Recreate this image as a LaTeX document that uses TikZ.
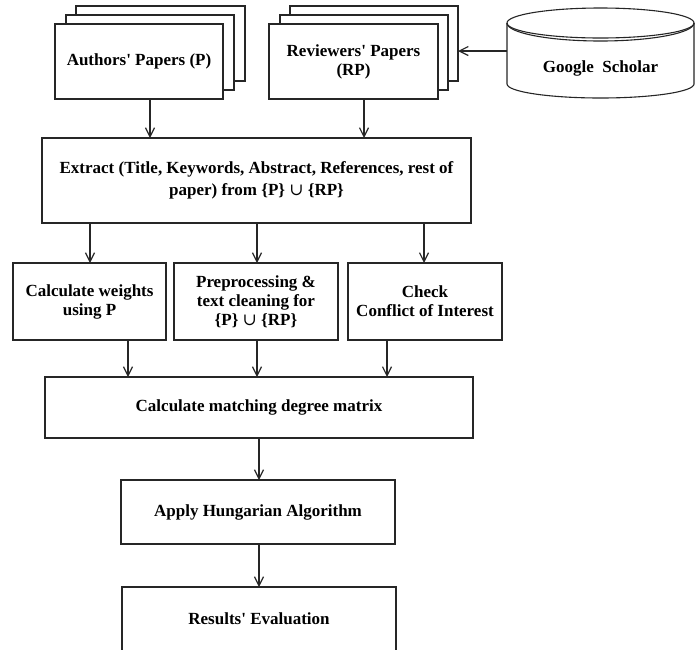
\documentclass[tikz,border=0pt]{standalone}
\usepackage{fontspec}
\setmainfont{Liberation Serif}
\newfontfamily\symfont{DejaVu Serif}
\usetikzlibrary{arrows.meta,calc}
\newcommand{\q}{\textquotesingle}
\newcommand{\un}{{\symfont\mdseries ∪}}
\begin{document}
\begin{tikzpicture}[x=1pt,y=-1pt,
  every node/.style={inner sep=0pt, outer sep=0pt},
  box/.style={draw=black!85, line width=1.1pt, fill=white, align=center,
    font=\fontsize{17}{19}\selectfont\bfseries, anchor=center},
  arr/.style={draw=black!85, line width=1.1pt, -{Straight Barb[length=9pt,width=9pt,line width=1.2pt]}},
  cyl/.style={draw=black!85, line width=1.1pt}]
\useasboundingbox (0,0) rectangle (695,649);
\clip (0,0) rectangle (695,649);

% Authors' papers stack
\node[box, minimum width=169, minimum height=75] (a3) at (160.5,43.5) {};
\node[box, minimum width=168, minimum height=75] (a2) at (150,52.5) {};
\node[box, minimum width=168, minimum height=75] (a1) at (139,61.5) {Authors\q{} Papers (P)};

% Reviewers' papers stack
\node[box, minimum width=168, minimum height=75] (r3) at (374,43.5) {};
\node[box, minimum width=168, minimum height=75] (r2) at (364,52.5) {};
\node[box, minimum width=169, minimum height=75] (r1) at (353.5,61.5) {Reviewers\q{} Papers\\(RP)};

% Google Scholar cylinder
\node[minimum width=187, minimum height=90] (gs) at (600.5,51) {};
\draw[cyl, fill=white] (507,23) -- (507,84) arc[start angle=180, end angle=0, x radius=93.5, y radius=14] -- (694,23);
\draw[cyl] (600.5,23) ellipse [x radius=93.5, y radius=15];
\draw[cyl] (507,23) arc[start angle=180, end angle=0, x radius=93.5, y radius=18];
\node[font=\fontsize{17}{19}\selectfont\bfseries] (gsl) at (600.5,68) {Google\ \ Scholar};

% Main flow
\node[box, minimum width=429, minimum height=85, font=\fontsize{17}{22}\selectfont\bfseries] (ex) at (256.5,180.5)
  {Extract (Title, Keywords, Abstract, References, rest of\\paper) from \{P\} \un{} \{RP\}};
\node[box, minimum width=153, minimum height=77] (c1) at (89.5,301.5) {Calculate weights\\using P};
\node[box, minimum width=164, minimum height=77] (c2) at (256,301.5) {Preprocessing \&\\text cleaning for\\\{P\} \un{} \{RP\}};
\node[box, minimum width=154, minimum height=77] (c3) at (425,301.5) {Check\\Conflict of Interest};
\node[box, minimum width=428, minimum height=61] (mm) at (259,407.5) {Calculate matching degree matrix};
\node[box, minimum width=274, minimum height=64] (hu) at (258,512) {Apply Hungarian Algorithm};
\node[box, minimum width=274, minimum height=64] (re) at (259,619) {Results\q{} Evaluation};

% Connectors
\draw[arr] (a1.south -| 150,0) -- (ex.north -| 150,0);
\draw[arr] (r1.south -| 364,0) -- (ex.north -| 364,0);
\draw[arr] (gs.west) -- (gs.west -| r3.east);
\draw[arr] (ex.south -| 90,0) -- (c1.north -| 90,0);
\draw[arr] (ex.south -| 257,0) -- (c2.north -| 257,0);
\draw[arr] (ex.south -| 424,0) -- (c3.north -| 424,0);
\draw[arr] (c1.south -| 128,0) -- (mm.north -| 128,0);
\draw[arr] (c2.south -| 257,0) -- (mm.north -| 257,0);
\draw[arr] (c3.south -| 387,0) -- (mm.north -| 387,0);
\draw[arr] (mm.south -| 259,0) -- (hu.north -| 259,0);
\draw[arr] (hu.south -| 259,0) -- (re.north -| 259,0);
\end{tikzpicture}
\end{document}
